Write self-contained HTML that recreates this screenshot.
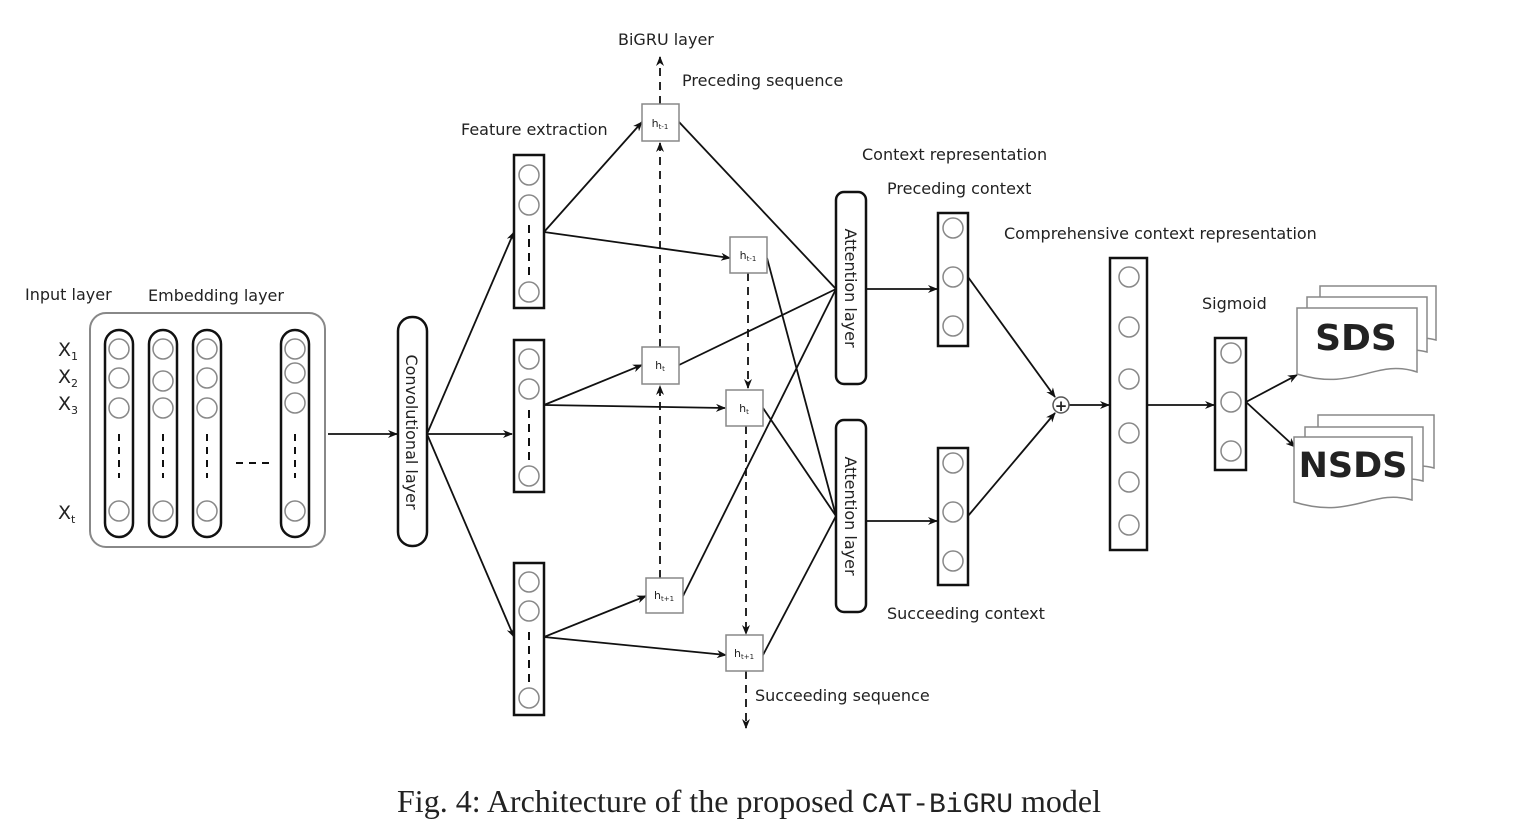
<!DOCTYPE html>
<html><head><meta charset="utf-8"><style>
body{margin:0;background:#fff;}
svg text{font-family:"DejaVu Sans","Liberation Sans",sans-serif;fill:#222;}
</style></head><body>
<svg width="1522" height="827" viewBox="0 0 1522 827" xmlns="http://www.w3.org/2000/svg">
<defs>
<marker id="a" markerWidth="10" markerHeight="8" refX="9" refY="4" orient="auto" markerUnits="userSpaceOnUse"><path d="M0,0 L10,4 L0,8 L3,4z" fill="#111"/></marker>
</defs>
<g font-size="16">
<text x="25" y="300">Input layer</text>
<text x="148" y="301">Embedding layer</text>
<text x="618" y="45">BiGRU layer</text>
<text x="682" y="86">Preceding sequence</text>
<text x="461" y="135">Feature extraction</text>
<text x="862" y="160">Context representation</text>
<text x="887" y="194">Preceding context</text>
<text x="1004" y="239">Comprehensive context representation</text>
<text x="1202" y="309">Sigmoid</text>
<text x="887" y="619">Succeeding context</text>
<text x="755" y="701">Succeeding sequence</text>
</g>
<!-- embedding -->
<rect x="90" y="313" width="235" height="234" rx="16" fill="none" stroke="#888" stroke-width="2"/>
<g font-size="19">
<text x="58" y="356">X<tspan font-size="11" dy="4">1</tspan></text>
<text x="58" y="383">X<tspan font-size="11" dy="4">2</tspan></text>
<text x="58" y="410">X<tspan font-size="11" dy="4">3</tspan></text>
<text x="58" y="519">X<tspan font-size="11" dy="4">t</tspan></text>
</g>
<g fill="none" stroke="#111" stroke-width="2.5">
<rect x="105" y="330" width="28" height="207" rx="14"/>
<rect x="149" y="330" width="28" height="207" rx="14"/>
<rect x="193" y="330" width="28" height="207" rx="14"/>
<rect x="281" y="330" width="28" height="207" rx="14"/>
</g>
<g fill="none" stroke="#888" stroke-width="1.5">
<circle cx="119" cy="349" r="10"/><circle cx="119" cy="378" r="10"/><circle cx="119" cy="408" r="10"/><circle cx="119" cy="511" r="10"/>
<circle cx="163" cy="349" r="10"/><circle cx="163" cy="381" r="10"/><circle cx="163" cy="408" r="10"/><circle cx="163" cy="511" r="10"/>
<circle cx="207" cy="349" r="10"/><circle cx="207" cy="378" r="10"/><circle cx="207" cy="408" r="10"/><circle cx="207" cy="511" r="10"/>
<circle cx="295" cy="349" r="10"/><circle cx="295" cy="373" r="10"/><circle cx="295" cy="403" r="10"/><circle cx="295" cy="511" r="10"/>
</g>
<g stroke="#111" stroke-width="2" stroke-dasharray="7,6">
<line x1="119" y1="434" x2="119" y2="478"/><line x1="163" y1="434" x2="163" y2="478"/><line x1="207" y1="434" x2="207" y2="478"/><line x1="295" y1="434" x2="295" y2="478"/>
<line x1="236" y1="463" x2="275" y2="463"/>
</g>
<g stroke="#111" stroke-width="1.8" fill="none" marker-end="url(#a)">
<line x1="328" y1="434" x2="397" y2="434"/>
<line x1="427" y1="434" x2="514" y2="232"/>
<line x1="427" y1="434" x2="512" y2="434"/>
<line x1="427" y1="434" x2="514" y2="637"/>
<line x1="544" y1="232" x2="642" y2="122"/>
<line x1="544" y1="232" x2="730" y2="258"/>
<line x1="544" y1="405" x2="642" y2="365"/>
<line x1="544" y1="405" x2="725" y2="408"/>
<line x1="544" y1="637" x2="646" y2="596"/>
<line x1="544" y1="637" x2="726" y2="655"/>
<line x1="866" y1="289" x2="937" y2="289"/>
<line x1="866" y1="521" x2="937" y2="521"/>
<line x1="968" y1="277" x2="1055" y2="397"/>
<line x1="968" y1="516" x2="1055" y2="413"/>
<line x1="1068" y1="405" x2="1109" y2="405"/>
<line x1="1147" y1="405" x2="1214" y2="405"/>
<line x1="1246" y1="402" x2="1297" y2="375"/>
<line x1="1246" y1="402" x2="1295" y2="447"/>
</g>
<!-- conv -->
<rect x="398" y="317" width="29" height="229" rx="14" fill="#fff" stroke="#111" stroke-width="2.5"/>
<text transform="translate(406,432) rotate(90)" font-size="16" text-anchor="middle">Convolutional layer</text>
<!-- feature boxes -->
<g fill="none" stroke="#111" stroke-width="2.5">
<rect x="514" y="155" width="30" height="153"/><rect x="514" y="340" width="30" height="152"/><rect x="514" y="563" width="30" height="152"/>
</g>
<g fill="none" stroke="#888" stroke-width="1.5">
<circle cx="529" cy="175" r="10"/><circle cx="529" cy="205" r="10"/><circle cx="529" cy="292" r="10"/>
<circle cx="529" cy="359" r="10"/><circle cx="529" cy="389" r="10"/><circle cx="529" cy="476" r="10"/>
<circle cx="529" cy="582" r="10"/><circle cx="529" cy="611" r="10"/><circle cx="529" cy="698" r="10"/>
</g>
<g stroke="#111" stroke-width="2" stroke-dasharray="8,6">
<line x1="529" y1="225" x2="529" y2="275"/><line x1="529" y1="410" x2="529" y2="460"/><line x1="529" y1="632" x2="529" y2="682"/>
</g>
<!-- dashed BiGRU lines -->
<g stroke="#111" stroke-width="1.8" stroke-dasharray="8,6" marker-end="url(#a)">
<line x1="660" y1="104" x2="660" y2="57"/>
<line x1="660" y1="347" x2="660" y2="143"/>
<line x1="660" y1="578" x2="660" y2="386"/>
<line x1="748" y1="273" x2="748" y2="388"/>
<line x1="746" y1="426" x2="746" y2="634"/>
<line x1="746" y1="671" x2="746" y2="728"/>
</g>
<!-- lines to attention -->
<g stroke="#111" stroke-width="1.8">
<line x1="679" y1="122" x2="836" y2="289"/><line x1="679" y1="365" x2="836" y2="289"/><line x1="683" y1="596" x2="836" y2="289"/>
<line x1="767" y1="258" x2="836" y2="516"/><line x1="763" y1="408" x2="836" y2="516"/><line x1="763" y1="655" x2="836" y2="516"/>
</g>
<!-- h boxes -->
<g fill="#fff" stroke="#888" stroke-width="1.5">
<rect x="642" y="104" width="37" height="37"/><rect x="642" y="347" width="37" height="37"/><rect x="646" y="578" width="37" height="35"/>
<rect x="730" y="237" width="37" height="36"/><rect x="726" y="390" width="37" height="36"/><rect x="726" y="635" width="37" height="36"/>
</g>
<g font-size="11" text-anchor="middle">
<text x="660" y="127">h<tspan font-size="7" dy="2">t-1</tspan></text>
<text x="660" y="369">h<tspan font-size="7" dy="2">t</tspan></text>
<text x="664" y="599">h<tspan font-size="7" dy="2">t+1</tspan></text>
<text x="748" y="259">h<tspan font-size="7" dy="2">t-1</tspan></text>
<text x="744" y="412">h<tspan font-size="7" dy="2">t</tspan></text>
<text x="744" y="657">h<tspan font-size="7" dy="2">t+1</tspan></text>
</g>
<!-- attention -->
<g fill="#fff" stroke="#111" stroke-width="2.5">
<rect x="836" y="192" width="30" height="192" rx="8"/><rect x="836" y="420" width="30" height="192" rx="8"/>
</g>
<text transform="translate(845,288) rotate(90)" font-size="16" text-anchor="middle">Attention layer</text>
<text transform="translate(845,516) rotate(90)" font-size="16" text-anchor="middle">Attention layer</text>
<!-- context -->
<g fill="none" stroke="#111" stroke-width="2.5">
<rect x="938" y="213" width="30" height="133"/><rect x="938" y="448" width="30" height="137"/>
<rect x="1110" y="258" width="37" height="292"/><rect x="1215" y="338" width="31" height="132"/>
</g>
<g fill="none" stroke="#888" stroke-width="1.5">
<circle cx="953" cy="228" r="10"/><circle cx="953" cy="277" r="10"/><circle cx="953" cy="326" r="10"/>
<circle cx="953" cy="463" r="10"/><circle cx="953" cy="512" r="10"/><circle cx="953" cy="561" r="10"/>
<circle cx="1129" cy="277" r="10"/><circle cx="1129" cy="327" r="10"/><circle cx="1129" cy="379" r="10"/><circle cx="1129" cy="433" r="10"/><circle cx="1129" cy="482" r="10"/><circle cx="1129" cy="525" r="10"/>
<circle cx="1231" cy="353" r="10"/><circle cx="1231" cy="402" r="10"/><circle cx="1231" cy="451" r="10"/>
</g>
<circle cx="1061" cy="405" r="8" fill="#fff" stroke="#555" stroke-width="1.5"/>
<text x="1061" y="411" font-size="15" text-anchor="middle" font-weight="bold">+</text>
<!-- documents -->
<g fill="#fff" stroke="#888" stroke-width="1.5">
<path d="M1320,286 H1436 V340 C1400,330 1380,360 1320,350 Z"/>
<path d="M1307,297 H1427 V352 C1390,342 1370,372 1307,362 Z"/>
<path d="M1297,308 H1417 V372 C1375,358 1355,392 1297,374 Z"/>
<path d="M1318,415 H1434 V468 C1400,458 1380,488 1318,478 Z"/>
<path d="M1305,427 H1423 V481 C1388,471 1368,501 1305,491 Z"/>
<path d="M1294,437 H1412 V500 C1372,488 1352,520 1294,502 Z"/>
</g>
<text x="1356" y="350" font-size="36" font-weight="bold" text-anchor="middle" fill="#111">SDS</text>
<text x="1353" y="477" font-size="35" font-weight="bold" text-anchor="middle" fill="#111">NSDS</text>
<text x="749" y="812" font-size="32" text-anchor="middle" style="font-family:'Liberation Serif',serif">Fig. 4: Architecture of the proposed <tspan style="font-family:'Liberation Mono',monospace" font-size="28">CAT-BiGRU</tspan> model</text>
</svg>
</body></html>
